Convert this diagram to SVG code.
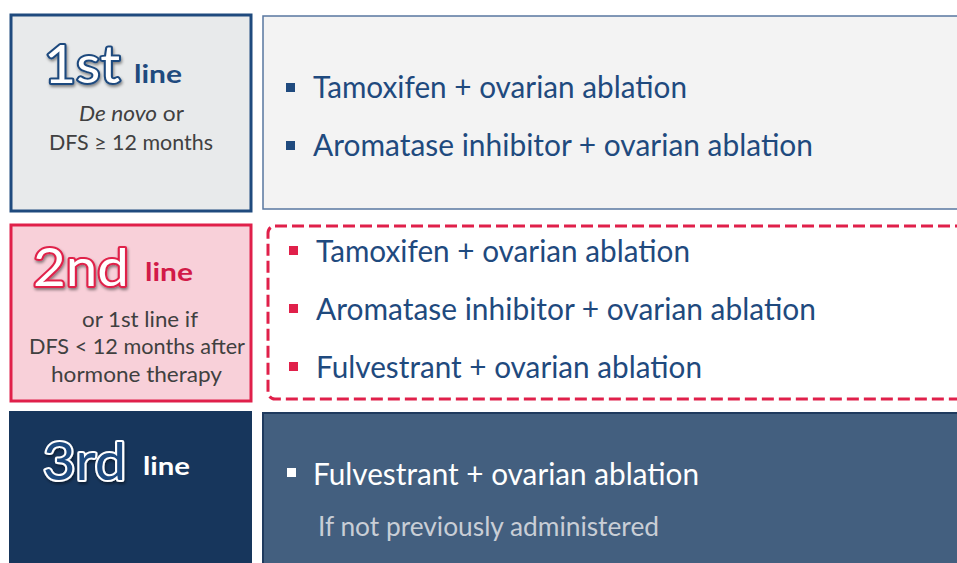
<svg xmlns="http://www.w3.org/2000/svg" width="957" height="563" viewBox="0 0 957 563">
<defs>
<style>
text{font-family:Lato,"Open Sans","Liberation Sans",sans-serif}
.item{font-size:30px;fill:#1f4a7e}
.item3{font-size:30px;fill:#ffffff}
.sub{font-size:26px;fill:#c9ced6}
.small{font-size:21px;fill:#404040}
.big{font-size:52px;stroke-width:4px;paint-order:stroke;stroke-linejoin:round}
.line{font-size:24px;font-weight:bold}
</style>
<filter id="sh" x="-20%" y="-20%" width="140%" height="150%">
<feDropShadow dx="1" dy="2" stdDeviation="1.5" flood-color="#000" flood-opacity="0.45"/>
</filter>
</defs>
<rect width="957" height="563" fill="#ffffff"/>
<g id="connectors"></g>
<g id="node-1st">
<rect x="11" y="15" width="240" height="196" fill="#e8eaeb" stroke="#1f4a7e" stroke-width="3"/>
<text class="big" x="44" y="83" textLength="76" lengthAdjust="spacingAndGlyphs" fill="#ffffff" stroke="#1f4a7e" filter="url(#sh)">1st</text>
<text class="line" x="134" y="83" textLength="48" lengthAdjust="spacingAndGlyphs" fill="#1f4a7e">line</text>
<text class="small" x="79" y="121" textLength="105" lengthAdjust="spacingAndGlyphs"><tspan font-style="italic">De novo</tspan> or</text>
<text class="small" x="49" y="150" textLength="164" lengthAdjust="spacingAndGlyphs">DFS ≥ 12 months</text>
</g>
<g id="node-1st-options">
<rect x="263" y="16" width="700" height="193" fill="#f3f3f3" stroke="#5877a0" stroke-width="1.5"/>
<rect x="286" y="83" width="9" height="9" fill="#1f4a7e"/>
<text class="item" x="313" y="98" textLength="374" lengthAdjust="spacingAndGlyphs">Tamoxifen + ovarian ablation</text>
<rect x="286" y="141" width="9" height="9" fill="#1f4a7e"/>
<text class="item" x="313" y="156" textLength="500" lengthAdjust="spacingAndGlyphs">Aromatase inhibitor + ovarian ablation</text>
</g>
<g id="node-2nd">
<rect x="11" y="225" width="240" height="176" fill="#f8d0d9" stroke="#e0204a" stroke-width="3"/>
<text class="big" x="33" y="286" textLength="96" lengthAdjust="spacingAndGlyphs" fill="#ffffff" stroke="#e0204a" filter="url(#sh)">2nd</text>
<text class="line" x="145" y="281" textLength="48" lengthAdjust="spacingAndGlyphs" fill="#d21a48">line</text>
<text class="small" x="82" y="327" textLength="116" lengthAdjust="spacingAndGlyphs">or 1st line if</text>
<text class="small" x="29" y="354" textLength="216" lengthAdjust="spacingAndGlyphs">DFS &lt; 12 months after</text>
<text class="small" x="51" y="382" textLength="171" lengthAdjust="spacingAndGlyphs">hormone therapy</text>
</g>
<g id="node-2nd-options">
<rect x="268" y="226" width="700" height="173" rx="7" ry="7" fill="#ffffff" stroke="#e0204a" stroke-width="3" stroke-dasharray="12 5"/>
<rect x="289" y="246" width="9" height="9" fill="#e0204a"/>
<text class="item" x="316" y="262" textLength="374" lengthAdjust="spacingAndGlyphs">Tamoxifen + ovarian ablation</text>
<rect x="289" y="304" width="9" height="9" fill="#e0204a"/>
<text class="item" x="316" y="320" textLength="500" lengthAdjust="spacingAndGlyphs">Aromatase inhibitor + ovarian ablation</text>
<rect x="289" y="362" width="9" height="9" fill="#e0204a"/>
<text class="item" x="316" y="378" textLength="386" lengthAdjust="spacingAndGlyphs">Fulvestrant + ovarian ablation</text>
</g>
<g id="node-3rd">
<rect x="9" y="411" width="243" height="160" fill="#17365c"/>
<text class="big" x="43" y="480" textLength="83" lengthAdjust="spacingAndGlyphs" fill="#1f4a7e" stroke="#ffffff" filter="url(#sh)">3rd</text>
<text class="line" x="143" y="475" textLength="47" lengthAdjust="spacingAndGlyphs" fill="#ffffff">line</text>
</g>
<g id="node-3rd-options">
<rect x="263" y="413" width="700" height="160" fill="#435f7f" stroke="#1f3a5e" stroke-width="2"/>
<rect x="287" y="468" width="9" height="9" fill="#ffffff"/>
<text class="item3" x="313" y="485" textLength="386" lengthAdjust="spacingAndGlyphs">Fulvestrant + ovarian ablation</text>
<text class="sub" x="318" y="536" textLength="341" lengthAdjust="spacingAndGlyphs">If not previously administered</text>
</g>
</svg>
